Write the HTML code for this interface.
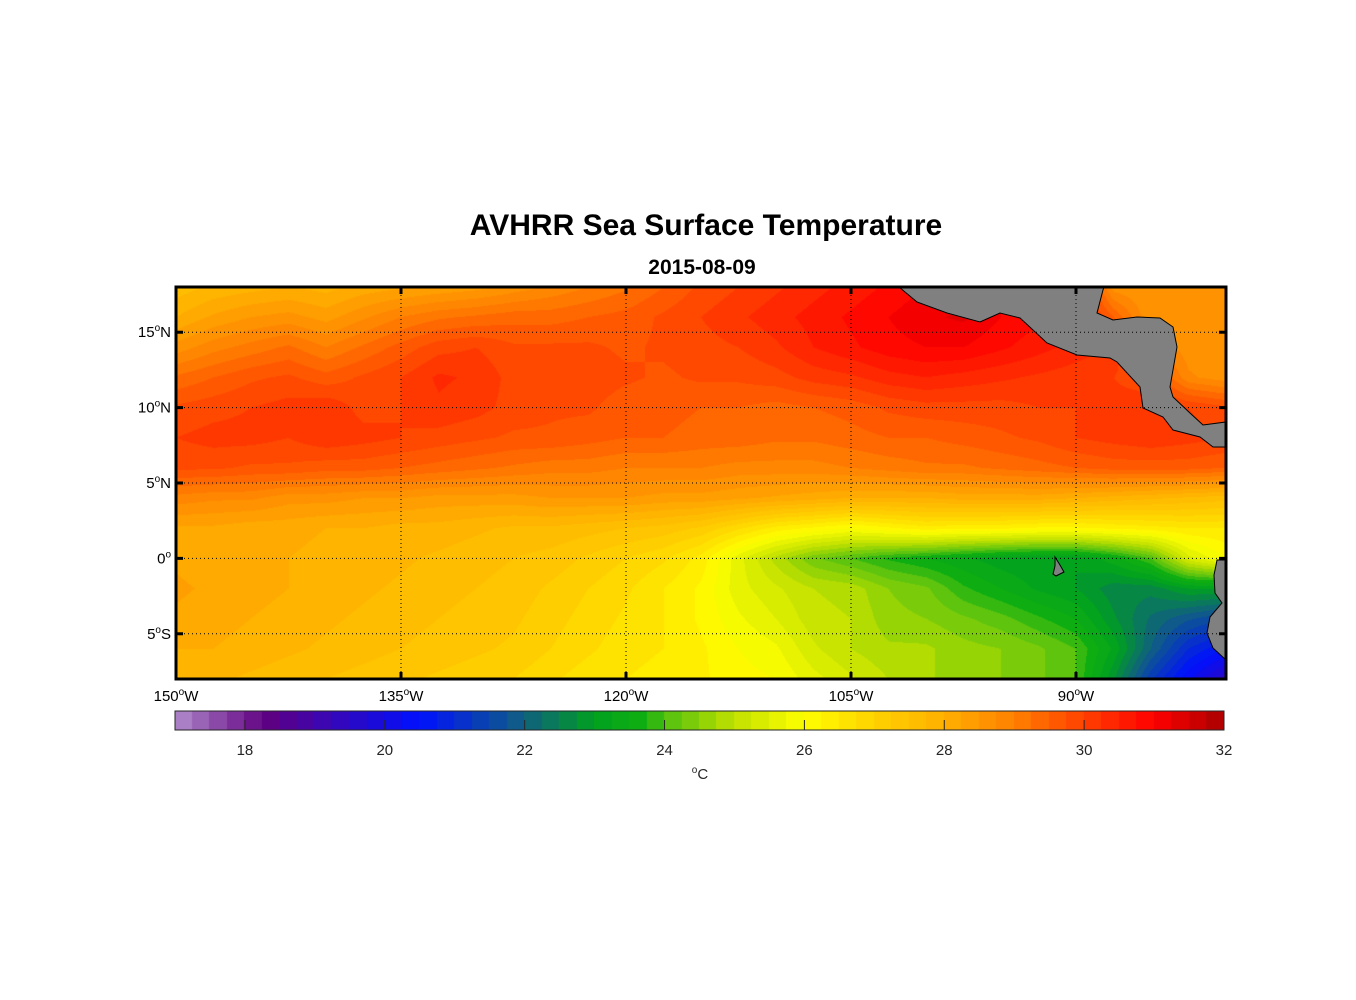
<!DOCTYPE html>
<html><head><meta charset="utf-8"><style>
body{margin:0;background:#fff;width:1356px;height:1000px;overflow:hidden;position:relative;font-family:"Liberation Sans",Arial,sans-serif}
#map{position:absolute;left:176px;top:287px}
svg{position:absolute;left:0;top:0}
</style></head><body>
<canvas id="map" width="1050" height="392"></canvas>
<canvas id="cbar" width="1049" height="19" style="position:absolute;left:175px;top:711px"></canvas>
<svg id="ov" width="1356" height="1000"></svg>
<script>
const lons=[-150,-147.5,-145,-142.5,-140,-137.5,-135,-132.5,-130,-127.5,-125,-122.5,-120,-117.5,-115,-112.5,-110,-107.5,-105,-102.5,-100,-97.5,-95,-92.5,-90,-87.5,-85,-82.5,-80];
const lats=[18,16,14,12,10,8,6,4,2,0,-2,-4,-6,-8];
const sst=[
[27.6,27.8,27.9,28.0,27.9,28.1,28.2,28.3,28.4,28.6,28.8,29.0,29.2,29.5,29.8,30.0,30.2,30.4,30.6,30.8,31.0,31.0,31.0,30.8,30.5,28.6,28.5,28.5,28.5],
[28.0,28.3,28.5,28.6,28.4,28.7,29.0,29.2,29.3,29.4,29.4,29.5,29.6,29.8,30.0,30.2,30.4,30.6,30.8,31.0,31.2,31.3,31.0,30.8,30.5,29.5,28.5,28.5,28.5],
[28.6,28.9,29.1,29.3,29.0,29.3,29.6,29.9,30.0,29.8,29.8,29.8,29.7,29.8,29.9,30.0,30.2,30.5,30.7,30.9,31.0,31.0,30.8,30.6,30.4,30.2,29.0,28.6,28.5],
[29.3,29.5,29.7,29.8,29.6,29.8,30.0,30.3,30.2,29.9,29.8,29.9,29.8,29.7,29.8,29.8,29.9,30.1,30.2,30.4,30.5,30.4,30.3,30.2,30.1,30.0,29.8,28.8,28.6],
[29.8,29.9,30.0,30.1,30.2,29.9,30.0,30.2,30.1,29.9,29.8,29.8,29.6,29.6,29.5,29.5,29.4,29.5,29.6,29.8,29.9,29.9,29.9,30.0,30.0,30.1,30.2,30.0,29.8],
[30.0,30.1,30.1,30.0,30.2,30.1,30.0,29.9,29.8,29.7,29.7,29.6,29.5,29.5,29.4,29.4,29.3,29.3,29.4,29.5,29.5,29.6,29.7,29.8,30.0,30.1,30.2,30.1,30.0],
[29.8,29.8,29.7,29.7,29.6,29.6,29.5,29.4,29.3,29.2,29.1,29.1,29.0,29.0,29.0,28.9,28.9,28.9,29.0,29.1,29.2,29.2,29.3,29.4,29.5,29.6,29.6,29.6,29.5],
[28.9,28.8,28.8,28.6,28.6,28.5,28.5,28.4,28.4,28.4,28.5,28.5,28.5,28.4,28.4,28.3,28.2,28.1,28.0,28.0,28.0,28.1,28.1,28.1,28.0,27.9,27.8,27.7,27.6],
[28.2,28.2,28.1,28.1,28.0,28.0,27.9,27.9,27.8,27.7,27.7,27.6,27.5,27.4,27.2,26.8,26.4,26.2,26.0,26.2,26.4,26.3,26.3,26.2,26.2,26.3,26.4,26.5,26.5],
[28.2,28.1,28.1,28.0,27.9,27.9,27.8,27.7,27.6,27.5,27.4,27.2,27.0,26.8,26.4,25.6,24.9,24.3,24.0,23.7,23.5,23.3,23.1,23.0,23.0,23.4,24.0,25.4,26.0],
[28.3,28.2,28.1,28.0,27.9,27.8,27.7,27.6,27.5,27.4,27.2,27.0,26.8,26.5,26.2,25.6,25.3,25.0,24.9,24.5,24.3,23.8,23.5,23.2,23.0,22.6,22.6,23.0,23.0],
[28.2,28.1,28.0,27.9,27.8,27.7,27.6,27.5,27.4,27.3,27.1,26.9,26.7,26.5,26.2,25.8,25.5,25.1,25.0,24.6,24.5,24.3,24.1,23.8,23.5,22.8,22.2,21.8,21.5],
[28.0,28.0,27.9,27.8,27.7,27.6,27.5,27.4,27.3,27.2,27.0,26.8,26.6,26.5,26.3,26.0,25.8,25.3,25.0,24.8,24.8,24.6,24.5,24.3,24.0,23.2,22.0,21.0,20.5],
[27.8,27.8,27.7,27.6,27.5,27.4,27.3,27.2,27.1,27.0,26.8,26.6,26.5,26.4,26.3,26.1,26.0,25.6,25.3,25.0,24.8,24.6,24.5,24.3,24.0,22.8,21.3,20.3,19.5]];
const cbTicks=[18,20,22,24,26,28,30,32];
const lonTicks=[-150,-135,-120,-105,-90];
const latTicks=[15,10,5,0,-5];
const stops=[[17,[178,140,204]],[18.3,[96,0,128]],[20.5,[0,16,255]],[22,[16,96,128]],[23,[0,160,32]],[23.7,[16,176,16]],[24,[80,192,16]],[25,[192,224,0]],[26,[255,255,0]],[27,[255,210,0]],[28,[255,176,0]],[29,[255,128,0]],[30,[255,64,0]],[31,[255,0,0]],[32,[170,0,0]]];
function cmap(v){v=Math.max(17,Math.min(31.99,v));v=17+Math.floor((v-17)*4)/4+0.125;
 for(let i=0;i<stops.length-1;i++){const a=stops[i],b=stops[i+1];if(v<=b[0]){const t=(v-a[0])/(b[0]-a[0]);return a[1].map((c,k)=>Math.round(c+(b[1][k]-c)*t));}}return stops[stops.length-1][1];}
const X0=176,X1=1226,Y0=287,Y1=679;
const LON0=-150,LON1=-80,LAT0=18,LAT1=-8;
const xs=l=>X0+(l-LON0)/(LON1-LON0)*(X1-X0);
const ys=l=>Y0+(LAT0-l)/(LAT0-LAT1)*(Y1-Y0);
const cv=document.getElementById('map'),ctx=cv.getContext('2d');
const W=cv.width,H=cv.height,img=ctx.createImageData(W,H);
const nx=lons.length,ny=lats.length;
for(let py=0;py<H;py++){const lat=LAT0-(py+0.5)/H*(LAT0-LAT1);
 let fy=(lats[0]-lat)/(lats[0]-lats[ny-1])*(ny-1);fy=Math.max(0,Math.min(ny-1.0001,fy));const j=Math.floor(fy),ty=fy-j;
 for(let px=0;px<W;px++){const lon=LON0+(px+0.5)/W*(LON1-LON0);
  let fx=(lon-lons[0])/(lons[nx-1]-lons[0])*(nx-1);fx=Math.max(0,Math.min(nx-1.0001,fx));const i=Math.floor(fx),tx=fx-i;
  const v=(sst[j][i]*(1-tx)+sst[j][i+1]*tx)*(1-ty)+(sst[j+1][i]*(1-tx)+sst[j+1][i+1]*tx)*ty;
  const c=cmap(v),o=(py*W+px)*4;img.data[o]=c[0];img.data[o+1]=c[1];img.data[o+2]=c[2];img.data[o+3]=255;}}
ctx.putImageData(img,0,0);
const cb=document.getElementById('cbar'),cctx=cb.getContext('2d');
for(let k=0;k<60;k++){const v=17+k*0.25+0.1;const c=cmap(v);cctx.fillStyle=`rgb(${c})`;cctx.fillRect(Math.floor(k*1049/60),0,Math.ceil(1049/60)+1,19);}
const NS='http://www.w3.org/2000/svg',ov=document.getElementById('ov');
function el(tag,attrs,parent){const e=document.createElementNS(NS,tag);for(const k in attrs)e.setAttribute(k,attrs[k]);(parent||ov).appendChild(e);return e;}
const land=[
[[899,287],[917,302],[947,313],[980,322],[1000,313],[1020,318],[1047,343],[1077,355],[1110,358],[1117,362],[1140,387],[1143,408],[1163,417],[1173,430],[1200,437],[1213,447],[1226,447],[1226,422],[1203,425],[1190,413],[1173,397],[1170,387],[1177,347],[1173,327],[1160,318],[1137,317],[1113,320],[1097,313],[1103,290],[1104,287]],
[[1055,557],[1060,565],[1064,572],[1056,576],[1053,574],[1055,566]],
[[1226,560],[1217,560],[1214,575],[1215,593],[1222,603],[1210,617],[1207,633],[1213,648],[1226,660]]];
land.forEach((p,i)=>{const e=el('polygon',{points:p.map(q=>q.join(',')).join(' '),fill:'#808080',stroke:'#000','stroke-width':1});

});
lonTicks.forEach(l=>{const x=xs(l);
 if(l>LON0){const g=el('line',{x1:x,x2:x,y1:Y0,y2:Y1,stroke:'#000','stroke-width':1,'stroke-dasharray':'1,3'});}
 el('line',{x1:x,x2:x,y1:Y0,y2:Y0+7,stroke:'#000','stroke-width':3});el('line',{x1:x,x2:x,y1:Y1-7,y2:Y1,stroke:'#000','stroke-width':3});
 const t=el('text',{x:x,y:Y1+22,'text-anchor':'middle','font-size':15});t.innerHTML=Math.abs(l)+'<tspan dy="-6" font-size="10">o</tspan><tspan dy="6">W</tspan>';
 
 });
latTicks.forEach(l=>{const y=ys(l);
 const g=el('line',{x1:X0,x2:X1,y1:y,y2:y,stroke:'#000','stroke-width':1,'stroke-dasharray':'1,3'});
 el('line',{x1:X0,x2:X0+7,y1:y,y2:y,stroke:'#000','stroke-width':3});el('line',{x1:X1-7,x2:X1,y1:y,y2:y,stroke:'#000','stroke-width':3});
 const t=el('text',{x:171,y:y+5,'text-anchor':'end','font-size':15});t.innerHTML=Math.abs(l)+'<tspan dy="-6" font-size="10">o</tspan><tspan dy="6">'+(l>0?'N':l<0?'S':'')+'</tspan>';
 
 });
const fr=el('rect',{x:X0,y:Y0,width:X1-X0,height:Y1-Y0,fill:'none',stroke:'#000','stroke-width':3});

const cx=v=>175+(v-17)/15*1049;
const cf=el('rect',{x:175,y:711,width:1049,height:19,fill:'none',stroke:'#262626','stroke-width':1});

cbTicks.forEach(v=>{const x=cx(v);el('line',{x1:x,x2:x,y1:720,y2:730,stroke:'#262626','stroke-width':1});
 const t=el('text',{x:x,y:755,'text-anchor':'middle','font-size':15,fill:'#262626'});t.textContent=v;
 
 });
</script>
<svg width="1356" height="1000" style="pointer-events:none">
<text x="706" y="235" text-anchor="middle" font-size="30" font-weight="bold">AVHRR Sea Surface Temperature</text>
<text x="702" y="274" text-anchor="middle" font-size="21" font-weight="bold">2015-08-09</text>
<text x="700" y="779" text-anchor="middle" font-size="15" fill="#262626"><tspan dy="-6" font-size="10">o</tspan><tspan dy="6">C</tspan></text>
</svg>
</body></html>
